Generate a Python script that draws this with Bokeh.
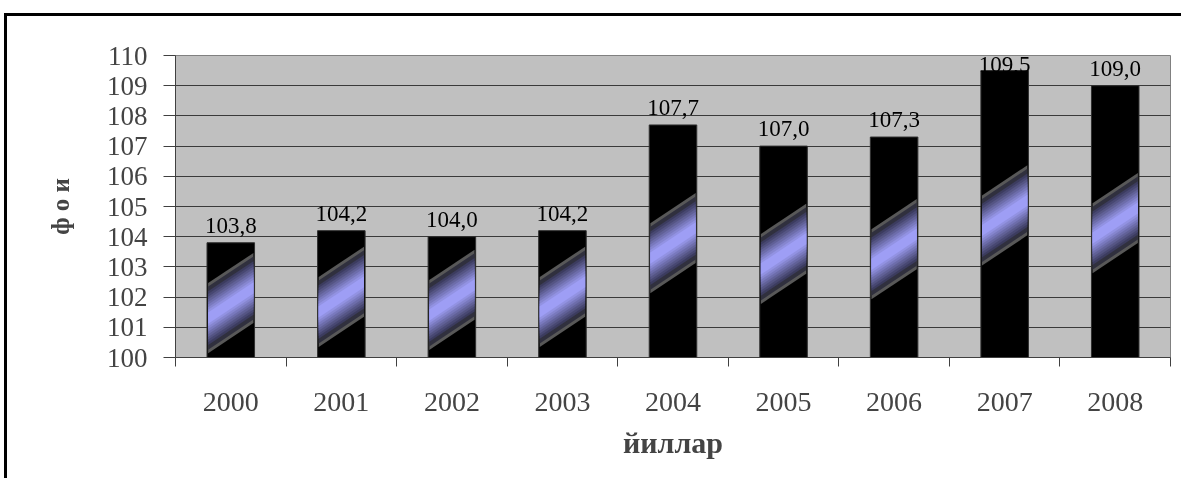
from bokeh.plotting import figure
from bokeh.layouts import column
from bokeh.models import ColumnDataSource, Range1d, FixedTicker
from bokeh.core.properties import value
from bokeh.embed import file_html
from bokeh.resources import INLINE

years = ["2000", "2001", "2002", "2003", "2004", "2005", "2006", "2007", "2008"]
values = [103.8, 104.2, 104.0, 104.2, 107.7, 107.0, 107.3, 109.5, 109.0]
y_ticks = [100, 101, 102, 103, 104, 105, 106, 107, 108, 109, 110]
x_title = "йиллар"
y_title = "ф о и"

FONT = "Liberation Serif"
BASE = 100
Y_MAX = 110
BAR_W = 0.43

x = list(range(len(years)))
labels = [f"{v:.1f}".replace(".", ",") for v in values]
# label sits just above its bar, kept inside the plot area like the original
label_y = [min(v + 0.33, Y_MAX - 0.56) for v in values]
src = ColumnDataSource(dict(x=x, top=values, label=labels, ly=label_y))

fig = figure(width=1174, height=462, output_backend="svg", toolbar_location=None,
             x_range=Range1d(-0.5, len(years) - 0.5), y_range=Range1d(BASE, Y_MAX),
             min_border_left=168, min_border_right=11, min_border_top=39, min_border_bottom=121)
fig.background_fill_color = "#c0c0c0"
fig.border_fill_color = "white"
fig.outline_line_color = "#808080"
fig.outline_line_width = 1

# bars
fig.vbar(x="x", top="top", bottom=BASE, width=BAR_W, source=src,
         fill_color="black", line_color="#303030", line_width=1)

# diagonal shaded band on each bar (derived from bar geometry)
def lerp(c1, c2, t):
    return "#%02x%02x%02x" % tuple(int(round(a + (b - a) * t)) for a, b in zip(c1, c2))

layers = [(1.00, "#585858"), (0.90, "#30303e")]
n = 9
for k in range(n):
    t = (k + 1) / n
    layers.append((0.84 - 0.68 * t, lerp((48, 48, 76), (158, 158, 245), t)))

hh = 1.16
slant = 1.0
inset = 0.01
for frac, col in layers:
    xs, ys = [], []
    for xi, v in zip(x, values):
        h = v - BASE
        cl = 99.37 + 0.509 * h
        l = xi - BAR_W / 2 + inset
        r = xi + BAR_W / 2 - inset
        d = hh * frac
        xs.append([l, r, r, l])
        ys.append([cl - d, cl - d + slant, cl + d + slant, cl + d])
    fig.patches(xs, ys, fill_color=col, line_color=None)

# value labels
fig.text(x="x", y="ly", text="label", source=src, text_align="center",
         text_baseline="bottom", text_font=value(FONT),
         text_font_size="23px", text_color="black")

# grid
fig.xgrid.visible = False
fig.ygrid.ticker = FixedTicker(ticks=y_ticks)
fig.ygrid.grid_line_color = "#3a3a3a"
fig.ygrid.grid_line_width = 1

# y axis
fig.yaxis.ticker = FixedTicker(ticks=y_ticks)
fig.yaxis.axis_line_color = "#404040"
fig.yaxis.major_tick_line_color = "#404040"
fig.yaxis.major_tick_out = 12
fig.yaxis.major_tick_in = 0
fig.yaxis.minor_tick_line_color = None
fig.yaxis.major_label_text_font = FONT
fig.yaxis.major_label_text_font_size = "27px"
fig.yaxis.major_label_standoff = 16
fig.yaxis.axis_label = y_title
fig.yaxis.axis_label_text_font = FONT
fig.yaxis.axis_label_text_font_style = "bold"
fig.yaxis.axis_label_text_font_size = "25px"
fig.yaxis.axis_label_standoff = 30

# x axis: labels at centres, ticks between categories
fig.xaxis.ticker = FixedTicker(ticks=x, minor_ticks=[i - 0.5 for i in range(len(years) + 1)])
fig.xaxis.major_label_overrides = {i: y for i, y in zip(x, years)}
fig.xaxis.axis_line_color = "#404040"
fig.xaxis.major_tick_line_color = None
fig.xaxis.major_tick_out = 0
fig.xaxis.major_tick_in = 0
fig.xaxis.minor_tick_line_color = "#404040"
fig.xaxis.minor_tick_out = 9
fig.xaxis.minor_tick_in = 0
fig.xaxis.major_label_text_font = FONT
fig.xaxis.major_label_text_font_size = "28px"
fig.xaxis.major_label_standoff = 26
fig.xaxis.axis_label = x_title
fig.xaxis.axis_label_text_font = FONT
fig.xaxis.axis_label_text_font_style = "bold"
fig.xaxis.axis_label_text_font_size = "30px"
fig.xaxis.axis_label_standoff = 12

# chart-area frame (outer border of the original chart object)
p = column(fig, styles={"position": "fixed", "left": "4px", "top": "13px",
                        "border-left": "3px solid black", "border-top": "3px solid black"})

open("out.html", "w").write(file_html(p, INLINE))
